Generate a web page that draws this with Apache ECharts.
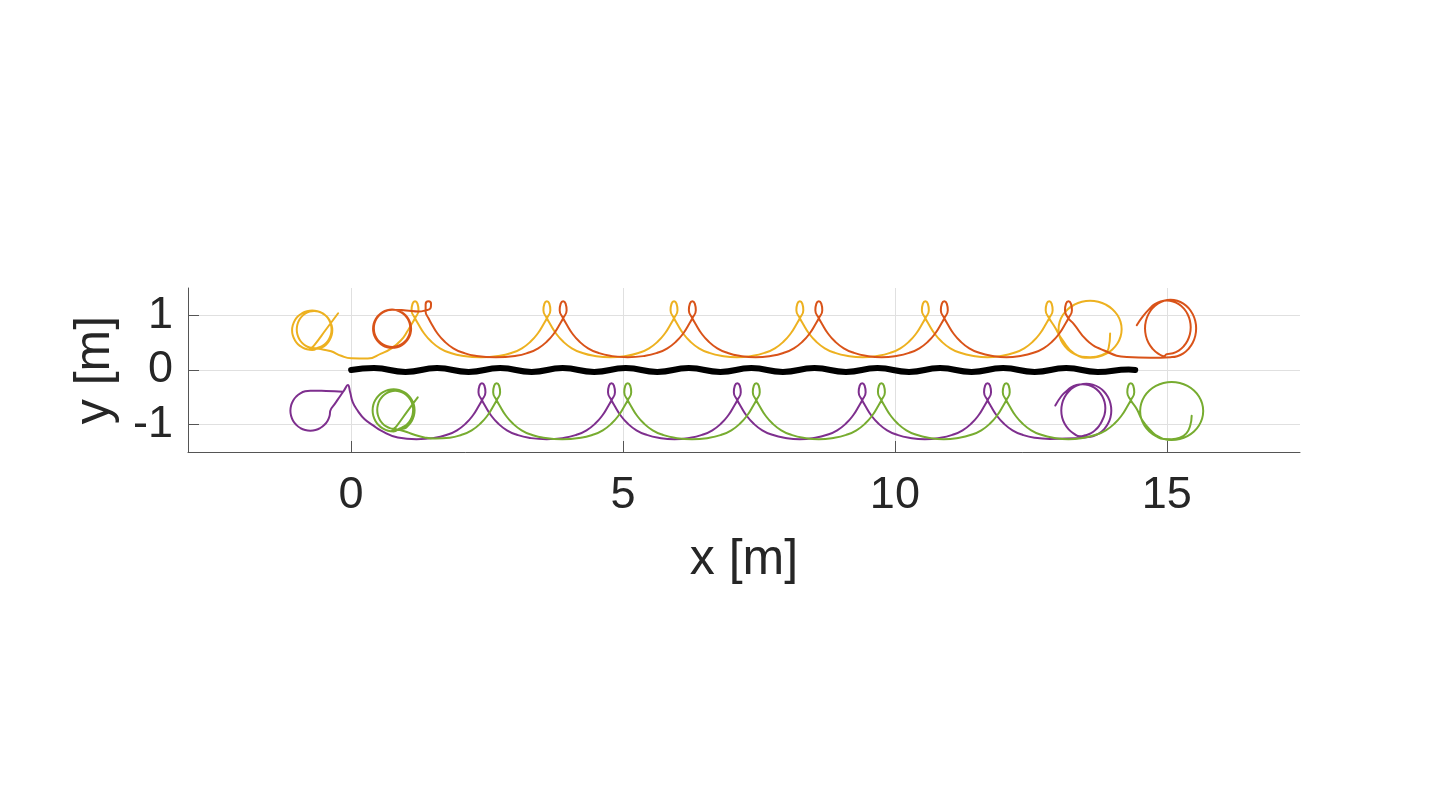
<!DOCTYPE html>
<html>
<head>
<meta charset="utf-8">
<script src="https://cdn.jsdelivr.net/npm/echarts@6/dist/echarts.min.js"></script>
<style>html,body{margin:0;padding:0;background:#fff}#c{width:1435px;height:801px}</style>
</head>
<body>
<div id="c"></div>
<script>
const xTicks = [0, 5, 10, 15];
const yTicks = [-1, 0, 1];

const blackPath = [[0,0.0],[0.42,0.035],[1.0,-0.035],[1.58,0.035],[2.16,-0.035],[2.74,0.035],[3.32,-0.035],[3.89,0.035],[4.47,-0.035],[5.05,0.035],[5.63,-0.035],[6.21,0.035],[6.79,-0.035],[7.36,0.035],[7.94,-0.035],[8.52,0.035],[9.10,-0.035],[9.68,0.035],[10.26,-0.035],[10.83,0.035],[11.41,-0.035],[11.99,0.035],[12.57,-0.035],[13.15,0.035],[13.73,-0.035],[14.30,0.01],[14.42,0.0]];

const yellowPath = [
[-0.239,1.038],[-0.459,0.745],[-0.680,0.452],[-0.760,0.380],
[-0.531,0.415],[-0.454,0.472],[-0.396,0.547],[-0.359,0.634],[-0.346,0.727],[-0.359,0.820],[-0.396,0.907],[-0.454,0.982],[-0.531,1.039],[-0.620,1.075],[-0.716,1.087],[-0.812,1.075],[-0.901,1.039],[-0.978,0.982],[-1.036,0.907],[-1.073,0.820],[-1.086,0.727],[-1.073,0.634],[-1.036,0.547],[-0.978,0.472],[-0.901,0.415],[-0.812,0.379],[-0.716,0.367],
[-0.597,0.412],[-0.520,0.446],[-0.454,0.500],[-0.403,0.570],[-0.371,0.652],[-0.360,0.740],[-0.371,0.828],[-0.403,0.910],[-0.454,0.980],[-0.520,1.034],[-0.597,1.068],[-0.680,1.080],[-0.763,1.068],[-0.840,1.034],[-0.906,0.980],[-0.957,0.910],[-0.989,0.828],[-1.000,0.740],[-0.989,0.652],[-0.957,0.570],[-0.906,0.500],[-0.840,0.446],[-0.763,0.412],[-0.680,0.400],
[-0.500,0.370],[-0.367,0.342],[-0.184,0.260],[0,0.214],
[0.307,0.209],[0.551,0.300],[0.735,0.392],[0.918,0.544],[1.047,0.727],[1.102,0.819],[1.175,0.947],
[1.239,1.093],[1.220,1.215],[1.175,1.258],[1.130,1.215],[1.111,1.093],[1.175,0.947],
[1.248,0.819],[1.340,0.672],[1.469,0.525],[1.634,0.397],[1.818,0.315],[2.038,0.260],[2.388,0.233],
[2.737,0.260],[2.957,0.315],[3.141,0.397],[3.306,0.525],[3.435,0.672],[3.527,0.819],[3.600,0.947],
[3.664,1.093],[3.645,1.215],[3.600,1.258],[3.555,1.215],[3.536,1.093],[3.600,0.947],
[3.673,0.819],[3.765,0.672],[3.894,0.525],[4.059,0.397],[4.243,0.315],[4.463,0.260],[4.769,0.233],
[5.075,0.260],[5.295,0.315],[5.479,0.397],[5.644,0.525],[5.773,0.672],[5.865,0.819],[5.938,0.947],
[6.002,1.093],[5.983,1.215],[5.938,1.258],[5.893,1.215],[5.874,1.093],[5.938,0.947],
[6.011,0.819],[6.103,0.672],[6.232,0.525],[6.397,0.397],[6.581,0.315],[6.801,0.260],[7.095,0.233],
[7.389,0.260],[7.609,0.315],[7.793,0.397],[7.958,0.525],[8.087,0.672],[8.179,0.819],[8.252,0.947],
[8.316,1.093],[8.297,1.215],[8.252,1.258],[8.207,1.215],[8.188,1.093],[8.252,0.947],
[8.325,0.819],[8.417,0.672],[8.546,0.525],[8.711,0.397],[8.895,0.315],[9.115,0.260],[9.406,0.233],
[9.697,0.260],[9.917,0.315],[10.101,0.397],[10.266,0.525],[10.395,0.672],[10.487,0.819],[10.560,0.947],
[10.624,1.093],[10.605,1.215],[10.560,1.258],[10.515,1.215],[10.496,1.093],[10.560,0.947],
[10.633,0.819],[10.725,0.672],[10.854,0.525],[11.019,0.397],[11.203,0.315],[11.423,0.260],[11.699,0.233],
[11.974,0.260],[12.194,0.315],[12.378,0.397],[12.543,0.525],[12.672,0.672],[12.764,0.819],[12.837,0.947],
[12.901,1.093],[12.882,1.215],[12.837,1.258],[12.792,1.215],[12.773,1.093],[12.837,0.947],
[12.940,0.788],[13.080,0.550],[13.300,0.300],
[13.590,0.225],[13.740,0.243],[13.880,0.295],[14.000,0.377],[14.092,0.485],[14.150,0.610],[14.170,0.745],[14.150,0.880],[14.092,1.005],[14.000,1.113],[13.880,1.195],[13.740,1.247],[13.590,1.265],[13.440,1.247],[13.300,1.195],[13.180,1.113],[13.088,1.005],[13.030,0.880],[13.010,0.745],[13.030,0.610],[13.088,0.485],[13.180,0.377],[13.300,0.295],[13.440,0.243],[13.590,0.235],
[13.800,0.270],[13.930,0.400],[13.958,0.667]
];

const orangePath = [
[0.928,1.058],[1.000,1.002],[1.056,0.930],[1.091,0.846],[1.103,0.755],[1.091,0.664],[1.056,0.580],[1.000,0.508],[0.928,0.452],[0.844,0.417],[0.753,0.405],[0.662,0.417],[0.578,0.452],[0.506,0.508],[0.450,0.580],[0.415,0.664],[0.403,0.755],[0.415,0.846],[0.450,0.930],[0.506,1.002],[0.578,1.058],[0.662,1.093],[0.753,1.105],
[0.840,1.090],[0.921,1.056],[0.990,1.002],[1.043,0.932],[1.077,0.850],[1.088,0.762],[1.077,0.674],[1.043,0.592],[0.990,0.522],[0.921,0.468],[0.840,0.434],[0.753,0.422],[0.666,0.434],[0.585,0.468],[0.516,0.522],[0.463,0.592],[0.429,0.674],[0.418,0.762],[0.429,0.850],[0.463,0.932],[0.516,1.002],[0.585,1.056],[0.666,1.090],[0.753,1.102],
[1.010,1.090],[1.249,1.070],[1.360,1.090],[1.460,1.130],[1.470,1.210],[1.423,1.258],[1.370,1.200],[1.370,1.070],[1.423,0.947],
[1.493,0.819],[1.585,0.672],[1.714,0.525],[1.879,0.397],[2.063,0.315],[2.283,0.260],[2.660,0.233],
[3.036,0.260],[3.256,0.315],[3.440,0.397],[3.605,0.525],[3.734,0.672],[3.826,0.819],[3.899,0.947],
[3.963,1.093],[3.944,1.215],[3.899,1.258],[3.854,1.215],[3.835,1.093],[3.899,0.947],
[3.972,0.819],[4.064,0.672],[4.193,0.525],[4.358,0.397],[4.542,0.315],[4.762,0.260],[5.087,0.233],
[5.412,0.260],[5.632,0.315],[5.816,0.397],[5.981,0.525],[6.110,0.672],[6.202,0.819],[6.275,0.947],
[6.339,1.093],[6.320,1.215],[6.275,1.258],[6.230,1.215],[6.211,1.093],[6.275,0.947],
[6.348,0.819],[6.440,0.672],[6.569,0.525],[6.734,0.397],[6.918,0.315],[7.138,0.260],[7.438,0.233],
[7.738,0.260],[7.958,0.315],[8.142,0.397],[8.307,0.525],[8.436,0.672],[8.528,0.819],[8.601,0.947],
[8.665,1.093],[8.646,1.215],[8.601,1.258],[8.556,1.215],[8.537,1.093],[8.601,0.947],
[8.674,0.819],[8.766,0.672],[8.895,0.525],[9.060,0.397],[9.244,0.315],[9.464,0.260],[9.755,0.233],
[10.046,0.260],[10.266,0.315],[10.450,0.397],[10.615,0.525],[10.744,0.672],[10.836,0.819],[10.909,0.947],
[10.973,1.093],[10.954,1.215],[10.909,1.258],[10.864,1.215],[10.845,1.093],[10.909,0.947],
[10.982,0.819],[11.074,0.672],[11.203,0.525],[11.368,0.397],[11.552,0.315],[11.772,0.260],[12.051,0.233],
[12.329,0.260],[12.549,0.315],[12.733,0.397],[12.898,0.525],[13.027,0.672],[13.119,0.819],[13.192,0.947],
[13.256,1.093],[13.237,1.215],[13.192,1.258],[13.147,1.215],[13.128,1.093],[13.192,0.947],
[13.284,0.850],[13.530,0.544],[13.835,0.361],[14.264,0.238],[14.700,0.225],
[15.070,0.235],[15.192,0.253],[15.305,0.305],[15.402,0.389],[15.477,0.498],[15.524,0.624],[15.540,0.760],[15.524,0.896],[15.477,1.022],[15.402,1.131],[15.305,1.215],[15.192,1.267],[15.070,1.285],[14.948,1.267],[14.835,1.215],[14.738,1.131],[14.663,1.022],[14.616,0.896],[14.600,0.760],[14.616,0.624],[14.663,0.498],[14.738,0.389],[14.835,0.305],[14.948,0.253],
[15.000,0.290],[15.114,0.307],[15.220,0.356],[15.311,0.434],[15.381,0.535],[15.425,0.653],[15.440,0.780],[15.425,0.907],[15.381,1.025],[15.311,1.126],[15.220,1.204],[15.114,1.253],[15.000,1.270],[14.886,1.253],[14.780,1.204],[14.689,1.126],
[14.560,0.980],[14.448,0.819]
];

const purplePath = [
[-0.147,-0.399],[-0.459,-0.385],[-0.750,-0.378],[-0.845,-0.390],[-0.934,-0.427],[-1.009,-0.485],[-1.068,-0.561],[-1.104,-0.649],[-1.117,-0.744],[-1.104,-0.839],[-1.068,-0.927],[-1.009,-1.003],[-0.934,-1.061],[-0.845,-1.098],[-0.750,-1.110],[-0.655,-1.098],[-0.567,-1.061],[-0.491,-1.003],[-0.432,-0.927],[-0.396,-0.839],[-0.383,-0.744],[-0.300,-0.620],[-0.210,-0.490],[-0.129,-0.372],[-0.061,-0.275],
[-0.018,-0.408],[0.031,-0.592],[0.129,-0.756],[0.244,-0.897],[0.404,-1.013],[0.551,-1.110],[0.858,-1.233],[1.200,-1.265],
[1.543,-1.240],[1.763,-1.185],[1.947,-1.103],[2.112,-0.975],[2.241,-0.828],[2.333,-0.681],[2.406,-0.553],
[2.470,-0.407],[2.451,-0.285],[2.406,-0.242],[2.361,-0.285],[2.342,-0.407],[2.406,-0.553],
[2.479,-0.681],[2.571,-0.828],[2.700,-0.975],[2.865,-1.103],[3.049,-1.185],[3.269,-1.240],[3.597,-1.267],
[3.925,-1.240],[4.145,-1.185],[4.329,-1.103],[4.494,-0.975],[4.623,-0.828],[4.715,-0.681],[4.788,-0.553],
[4.852,-0.407],[4.833,-0.285],[4.788,-0.242],[4.743,-0.285],[4.724,-0.407],[4.788,-0.553],
[4.861,-0.681],[4.953,-0.828],[5.082,-0.975],[5.247,-1.103],[5.431,-1.185],[5.651,-1.240],[5.945,-1.267],
[6.239,-1.240],[6.459,-1.185],[6.643,-1.103],[6.808,-0.975],[6.937,-0.828],[7.029,-0.681],[7.102,-0.553],
[7.166,-0.407],[7.147,-0.285],[7.102,-0.242],[7.057,-0.285],[7.038,-0.407],[7.102,-0.553],
[7.175,-0.681],[7.267,-0.828],[7.396,-0.975],[7.561,-1.103],[7.745,-1.185],[7.965,-1.240],[8.250,-1.267],
[8.535,-1.240],[8.755,-1.185],[8.939,-1.103],[9.104,-0.975],[9.233,-0.828],[9.325,-0.681],[9.398,-0.553],
[9.462,-0.407],[9.443,-0.285],[9.398,-0.242],[9.353,-0.285],[9.334,-0.407],[9.398,-0.553],
[9.471,-0.681],[9.563,-0.828],[9.692,-0.975],[9.857,-1.103],[10.041,-1.185],[10.261,-1.240],[10.551,-1.267],
[10.841,-1.240],[11.061,-1.185],[11.245,-1.103],[11.410,-0.975],[11.539,-0.828],[11.631,-0.681],[11.704,-0.553],
[11.768,-0.407],[11.749,-0.285],[11.704,-0.242],[11.659,-0.285],[11.640,-0.407],[11.704,-0.553],
[11.777,-0.681],[11.869,-0.828],[11.998,-0.975],[12.163,-1.103],[12.347,-1.185],[12.567,-1.240],
[12.850,-1.262],[13.150,-1.255],
[13.520,-1.230],[13.639,-1.213],[13.750,-1.164],[13.845,-1.086],[13.918,-0.985],[13.964,-0.867],[13.980,-0.740],[13.964,-0.613],[13.918,-0.495],[13.845,-0.394],[13.750,-0.316],[13.639,-0.267],[13.520,-0.250],[13.401,-0.267],[13.290,-0.316],[13.195,-0.394],[13.122,-0.495],[13.076,-0.613],[13.060,-0.740],[13.076,-0.867],[13.122,-0.985],[13.195,-1.086],[13.290,-1.164],[13.401,-1.213],
[13.500,-1.195],[13.600,-1.160],[13.690,-1.095],[13.760,-1.015],[13.814,-0.920],[13.856,-0.814],[13.870,-0.700],[13.856,-0.586],[13.814,-0.480],[13.747,-0.389],[13.660,-0.319],[13.559,-0.275],[13.450,-0.260],[13.341,-0.275],[13.240,-0.319],[13.153,-0.389],
[13.060,-0.480],[12.950,-0.650]
];

const greenPath = [
[1.225,-0.500],[1.030,-0.760],[0.840,-1.020],[0.760,-1.100],
[0.974,-1.071],[1.054,-1.010],[1.115,-0.931],[1.154,-0.838],[1.167,-0.738],[1.154,-0.638],[1.115,-0.546],[1.054,-0.466],[0.974,-0.405],[0.881,-0.366],[0.781,-0.353],[0.681,-0.366],[0.588,-0.405],[0.508,-0.466],[0.447,-0.546],[0.408,-0.638],[0.395,-0.738],[0.408,-0.838],[0.447,-0.931],[0.508,-1.010],[0.588,-1.071],[0.681,-1.110],[0.781,-1.123],
[0.895,-1.068],[0.975,-1.033],[1.043,-0.977],[1.096,-0.905],[1.129,-0.821],[1.140,-0.730],[1.129,-0.639],[1.096,-0.555],[1.043,-0.483],[0.975,-0.427],[0.895,-0.392],[0.810,-0.380],[0.725,-0.392],[0.645,-0.427],[0.577,-0.483],[0.524,-0.555],[0.491,-0.639],[0.480,-0.730],[0.491,-0.821],[0.524,-0.905],[0.577,-0.977],[0.645,-1.033],[0.725,-1.068],[0.810,-1.080],
[0.980,-1.120],[1.150,-1.180],[1.346,-1.233],[1.550,-1.255],
[1.813,-1.240],[2.033,-1.185],[2.217,-1.103],[2.382,-0.975],[2.511,-0.828],[2.603,-0.681],[2.676,-0.553],
[2.740,-0.407],[2.721,-0.285],[2.676,-0.242],[2.631,-0.285],[2.612,-0.407],[2.676,-0.553],
[2.749,-0.681],[2.841,-0.828],[2.970,-0.975],[3.135,-1.103],[3.319,-1.185],[3.539,-1.240],[3.882,-1.267],
[4.224,-1.240],[4.444,-1.185],[4.628,-1.103],[4.793,-0.975],[4.922,-0.828],[5.014,-0.681],[5.087,-0.553],
[5.151,-0.407],[5.132,-0.285],[5.087,-0.242],[5.042,-0.285],[5.023,-0.407],[5.087,-0.553],
[5.160,-0.681],[5.252,-0.828],[5.381,-0.975],[5.546,-1.103],[5.730,-1.185],[5.950,-1.240],[6.269,-1.267],
[6.588,-1.240],[6.808,-1.185],[6.992,-1.103],[7.157,-0.975],[7.286,-0.828],[7.378,-0.681],[7.451,-0.553],
[7.515,-0.407],[7.496,-0.285],[7.451,-0.242],[7.406,-0.285],[7.387,-0.407],[7.451,-0.553],
[7.524,-0.681],[7.616,-0.828],[7.745,-0.975],[7.910,-1.103],[8.094,-1.185],[8.314,-1.240],[8.602,-1.267],
[8.889,-1.240],[9.109,-1.185],[9.293,-1.103],[9.458,-0.975],[9.587,-0.828],[9.679,-0.681],[9.752,-0.553],
[9.816,-0.407],[9.797,-0.285],[9.752,-0.242],[9.707,-0.285],[9.688,-0.407],[9.752,-0.553],
[9.825,-0.681],[9.917,-0.828],[10.046,-0.975],[10.211,-1.103],[10.395,-1.185],[10.615,-1.240],[10.900,-1.267],
[11.185,-1.240],[11.405,-1.185],[11.589,-1.103],[11.754,-0.975],[11.883,-0.828],[11.975,-0.681],[12.048,-0.553],
[12.112,-0.407],[12.093,-0.285],[12.048,-0.242],[12.003,-0.285],[11.984,-0.407],[12.048,-0.553],
[12.121,-0.681],[12.213,-0.828],[12.342,-0.975],[12.507,-1.103],[12.691,-1.185],[12.911,-1.240],[13.193,-1.267],
[13.475,-1.240],[13.695,-1.185],[13.879,-1.103],[14.044,-0.975],[14.173,-0.828],[14.265,-0.681],[14.338,-0.553],
[14.402,-0.407],[14.383,-0.285],[14.338,-0.242],[14.293,-0.285],[14.274,-0.407],[14.338,-0.553],
[14.448,-0.714],[14.550,-0.920],[14.700,-1.100],[14.850,-1.220],
[15.090,-1.280],[15.240,-1.262],[15.380,-1.209],[15.500,-1.125],[15.592,-1.015],[15.650,-0.887],[15.670,-0.750],[15.650,-0.613],[15.592,-0.485],[15.500,-0.375],[15.380,-0.291],[15.240,-0.238],[15.090,-0.220],[14.940,-0.238],[14.800,-0.291],[14.680,-0.375],[14.588,-0.485],[14.530,-0.613],[14.510,-0.750],[14.530,-0.887],[14.588,-1.015],[14.680,-1.125],[14.800,-1.209],[14.940,-1.262],[15.090,-1.265],
[15.240,-1.240],[15.360,-1.160],[15.430,-1.020],[15.458,-0.835]
];

const FONT = '"Liberation Sans", Arial, Helvetica, sans-serif';
const TXT = '#262626';
const AX = '#555555';
const GRID = '#e0e0e0';

function traj(data, color, width) {
  return {
    type: 'line', data: data, showSymbol: false, symbol: 'none',
    smooth: 0.5, lineStyle: { color: color, width: width, cap: 'round', join: 'round' },
    silent: true
  };
}

const chart = echarts.init(document.getElementById('c'), null, { renderer: 'canvas' });
chart.setOption({
  animation: false,
  backgroundColor: '#ffffff',
  grid: { left: 188, right: 135, top: 288, bottom: 349, containLabel: false },
  xAxis: {
    type: 'value', min: -3, max: 17.45,
    axisLine: { show: true, onZero: false, lineStyle: { color: AX, width: 1 } },
    axisTick: { show: true, inside: true, length: 11, customValues: xTicks, lineStyle: { color: AX, width: 1 } },
    axisLabel: { customValues: xTicks, fontSize: 45, color: TXT, margin: 21, fontFamily: FONT },
    splitLine: { show: true, lineStyle: { color: GRID, width: 1 } },
    name: 'x [m]', nameLocation: 'middle', nameGap: 83,
    nameTextStyle: { fontSize: 50, color: TXT, fontFamily: FONT }
  },
  yAxis: {
    type: 'value', min: -1.5, max: 1.5,
    axisLine: { show: true, onZero: false, lineStyle: { color: AX, width: 1 } },
    axisTick: { show: true, inside: true, length: 11, customValues: yTicks, lineStyle: { color: AX, width: 1 } },
    axisLabel: { customValues: yTicks, fontSize: 45, color: TXT, margin: 15, fontFamily: FONT },
    splitLine: { show: true, lineStyle: { color: GRID, width: 1 } },
    name: 'y [m]', nameLocation: 'middle', nameGap: 68,
    nameTextStyle: { fontSize: 50, color: TXT, fontFamily: FONT }
  },
  series: [
    traj(blackPath, '#000000', 6),
    traj(yellowPath, '#EDB120', 2),
    traj(orangePath, '#D95319', 2),
    traj(purplePath, '#7E2F8E', 2),
    traj(greenPath, '#77AC30', 2)
  ]
});
</script>
</body>
</html>
